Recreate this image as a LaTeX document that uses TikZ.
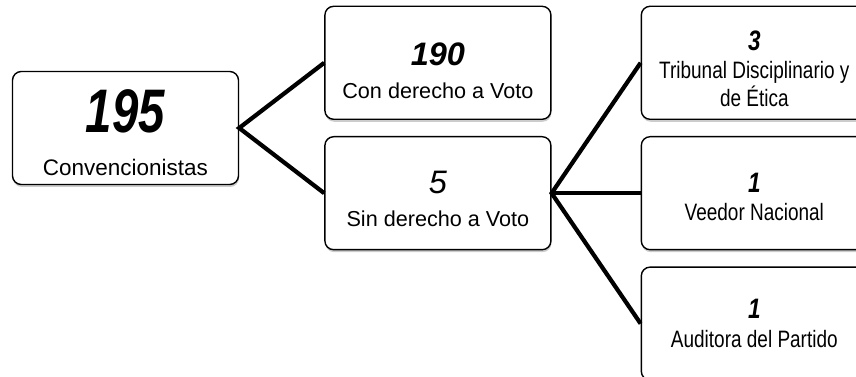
\documentclass[tikz,border=0pt]{standalone}
\usepackage{fontspec}
\setmainfont{Liberation Sans}
\newfontfamily\narrowfont[FakeStretch=0.8]{Liberation Sans}
\newfontfamily\tallfont[FakeStretch=0.77]{Liberation Sans}
\usetikzlibrary{positioning,shadows}
\newcommand{\numstrut}[1]{\rule{0pt}{#1}}

\begin{document}
\begin{tikzpicture}[
  node distance=0.32cm and 1.72cm,
  box/.style={draw,fill=white,rounded corners=5pt,line width=0.8pt,minimum width=4.52cm,minimum height=2.26cm,align=center,
    drop shadow={shadow xshift=0.3pt,shadow yshift=-1.4pt,opacity=0.4}},
  midtext/.style={font=\fontsize{12.3pt}{18.8pt}\selectfont},
  sidetext/.style={font=\narrowfont\fontsize{13.5pt}{16.2pt}\selectfont},
  link/.style={line width=2.4pt}
]
  \useasboundingbox (-2.51,2.56) rectangle (14.61,-4.98);
  % root
  \node[box,font=\fontsize{12.8pt}{21.4pt}\selectfont] (total)
    {\numstrut{30pt}{\tallfont\fontsize{35pt}{36pt}\selectfont\bfseries\itshape 195}\\[2.8pt]Convencionistas};
  % second level
  \node[box,midtext,above right=0.16cm and 1.7cm of total.east] (voto)
    {\numstrut{22pt}{\fontsize{18.5pt}{19pt}\selectfont\bfseries\itshape 190}\\Con derecho a Voto};
  \node[box,midtext,below right=0.16cm and 1.7cm of total.east] (sinvoto)
    {\numstrut{19pt}{\fontsize{18.5pt}{19pt}\selectfont\itshape 5}\\Sin derecho a Voto};
  % third level
  \node[box,sidetext,right=1.78cm of sinvoto] (veedor)
    {\numstrut{15pt}{\fontsize{16pt}{17pt}\selectfont\bfseries\itshape 1}\\Veedor Nacional};
  \node[box,sidetext,above=of veedor] (tribunal)
    {\numstrut{18pt}{\fontsize{16pt}{17pt}\selectfont\bfseries\itshape 3}\\Tribunal Disciplinario y\\de Ética};
  \node[box,sidetext,below=of veedor] (auditora)
    {{\fontsize{16pt}{17pt}\selectfont\bfseries\itshape 1}\\Auditora del Partido};
  % links
  \draw[link] (voto.west) -- (total.east) -- (sinvoto.west);
  \draw[link] (tribunal.west) -- (sinvoto.east) -- (auditora.west);
  \draw[link] (sinvoto.east) -- (veedor.west);
\end{tikzpicture}
\end{document}
